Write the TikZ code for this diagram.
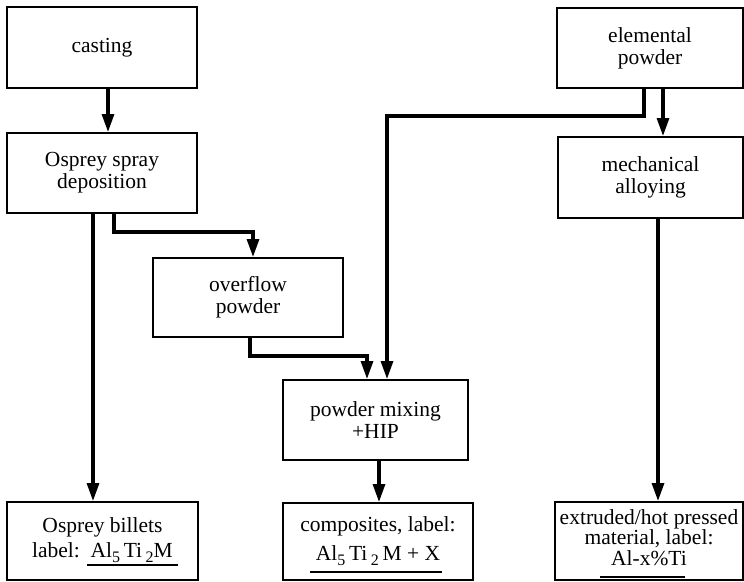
\documentclass[tikz,border=0pt]{standalone}
\usepackage{fontspec}
\setmainfont{Liberation Serif}
\usetikzlibrary{arrows.meta,calc}
\newcommand{\subnum}[1]{\raisebox{-0.5ex}{\fontsize{16}{16}\selectfont #1}}
\begin{document}
\begin{tikzpicture}[x=1pt,y=-1pt,
  box/.style={draw,line width=2pt,inner sep=0pt,align=center,
    font=\fontsize{21.5}{22}\selectfont},
  arr/.style={line width=3.2pt,-{Triangle[length=18pt,width=12pt]}},
  uline/.style={line width=2.2pt}]
\useasboundingbox (0,0) rectangle (744,581);
\node[box,minimum width=190pt,minimum height=81pt] (casting) at (102,47.5) {casting};
\node[box,minimum width=190pt,minimum height=80pt] (osprey) at (102,173) {Osprey spray\\deposition};
\node[box,minimum width=186pt,minimum height=80pt] (elemental) at (650,48) {elemental\\powder};
\node[box,minimum width=185pt,minimum height=81pt] (mechanical) at (650.5,177.5) {mechanical\\alloying};
\node[box,minimum width=190pt,minimum height=79pt] (overflow) at (248,297.5) {overflow\\powder};
\node[box,minimum width=185pt,minimum height=80pt] (mixing) at (375.5,420) {powder mixing\\+HIP};
\node[box,minimum width=191pt,minimum height=78pt] (billets) at (102.5,541) {Osprey billets\\[3pt]label:\ \ Al\subnum{5}\,Ti\,\subnum{2}M\\[-15pt]};
\node[box,minimum width=190pt,minimum height=77pt] (composites) at (378,541.5) {composites, label:\\[7pt]Al\subnum{5}\,Ti\,\subnum{2}\,M + X\\[-16pt]};
\node[box,minimum width=188pt,minimum height=78pt] (extruded) at (649,541) {extruded/hot pressed\\[-1.5pt]material, label:\\[-1.5pt]Al-x\%Ti\\[-15pt]};
% underlines
\draw[uline] (87,565) -- (178,565);
\draw[uline] (310,572) -- (442,572);
\draw[uline] (600,577) -- (685,577);
% connectors
\draw[arr] ([xshift=6pt]casting.south) -- ([xshift=6pt]casting.south |- osprey.north);
\draw[arr] ([xshift=-9pt]osprey.south) -- ([xshift=-9pt]osprey.south |- billets.north);
\draw[arr] ([xshift=12pt]osprey.south) -- ++(0,18) -| ([xshift=5pt]overflow.north);
\draw[arr] ([xshift=2pt]overflow.south) -- ++(0,18) -| ([xshift=-8.5pt]mixing.north);
\draw[arr] ([xshift=-6pt]elemental.south) -- ++(0,27) -| ([xshift=11.5pt]mixing.north);
\draw[arr] ([xshift=13pt]elemental.south) -- ([xshift=13pt]elemental.south |- mechanical.north);
\draw[arr] ([xshift=7.5pt]mechanical.south) -- ([xshift=7.5pt]mechanical.south |- extruded.north);
\draw[arr] ([xshift=3.5pt]mixing.south) -- ([xshift=3.5pt]mixing.south |- composites.north);
\end{tikzpicture}
\end{document}
